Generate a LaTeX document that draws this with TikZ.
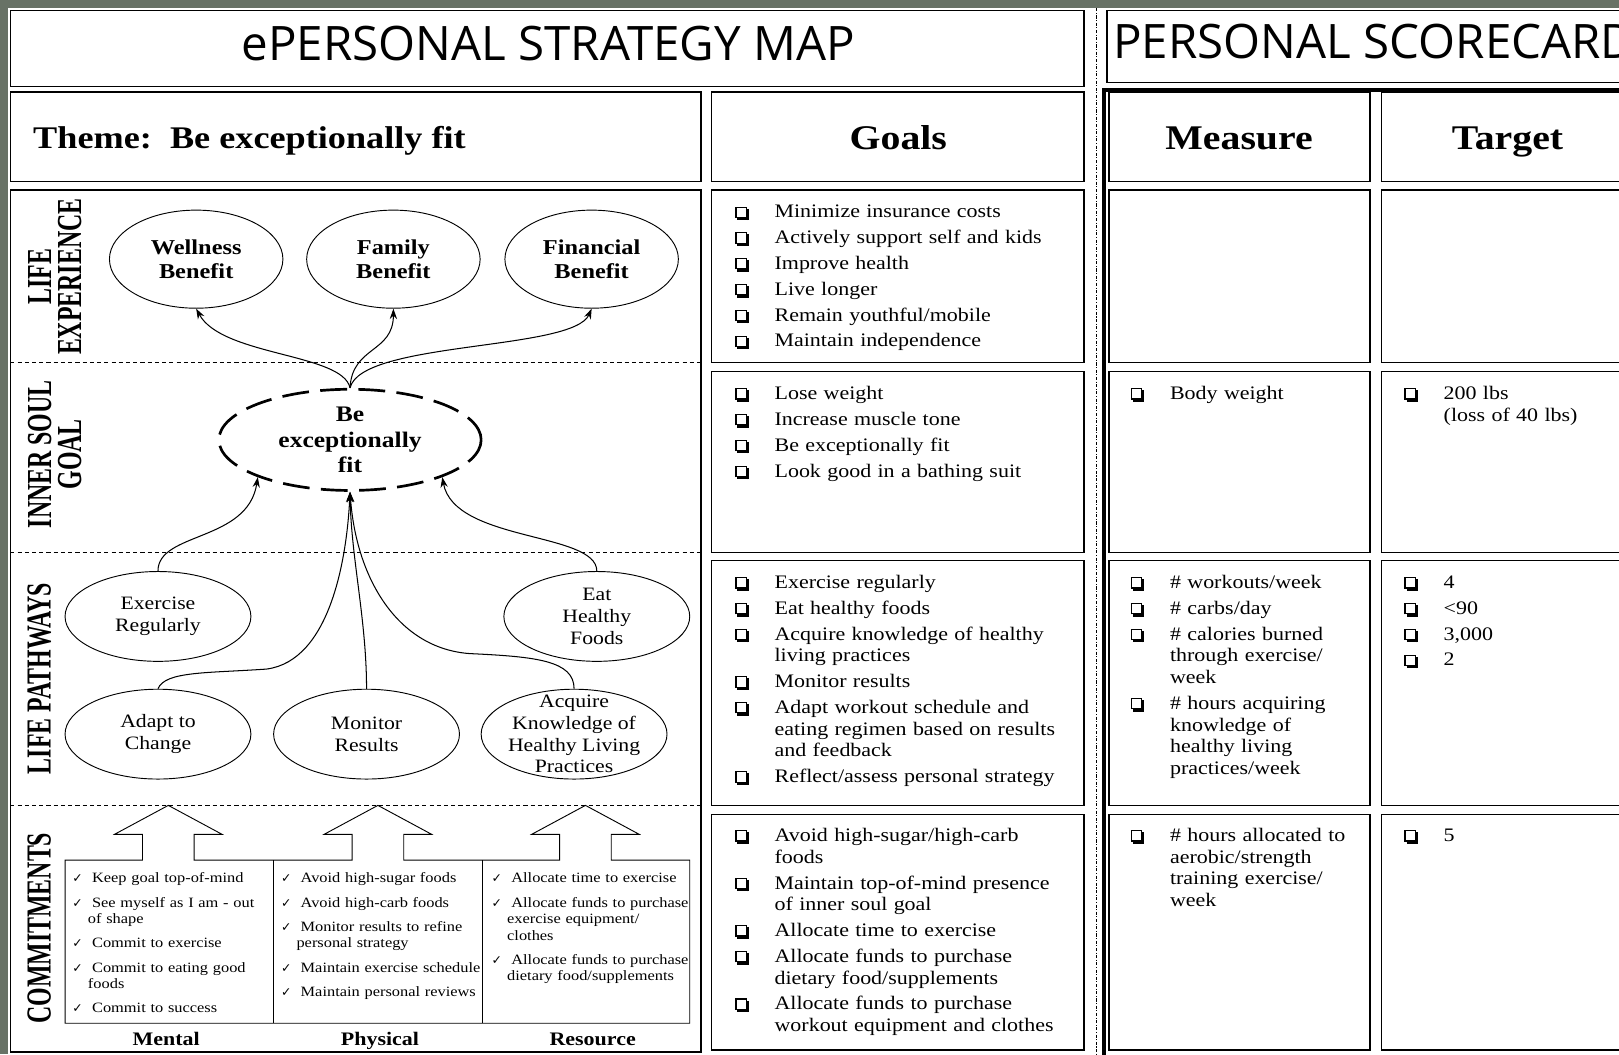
\documentclass[tikz,border=0pt]{standalone}
\usepackage{fontspec}
\setmainfont{Liberation Serif}[FakeStretch=1.15]
\newfontfamily\lanefamily{Liberation Serif}[FakeStretch=0.68]
\newfontfamily\titlefamily{Open Sans}
\newfontfamily\symfamily{DejaVu Sans}
\usetikzlibrary{positioning,shapes.geometric,arrows.meta}
\definecolor{slate}{RGB}{104,114,102}

% shadowed check box, built from rules
\newcommand\boxmark{%
  \rlap{\vrule width 1.1pt height 11pt depth 0pt}%
  \rlap{\raisebox{9.9pt}{\vrule width 11pt height 1.1pt depth 0pt}}%
  \rlap{\vrule width 11pt height 1.1pt depth 0pt}%
  \rlap{\hspace{9.9pt}\vrule width 1.1pt height 11pt depth 0pt}%
  \rlap{\hspace{2pt}\vrule width 11.2pt height 0pt depth 2.2pt}%
  \rlap{\hspace{11pt}\vrule width 2.2pt height 9pt depth 2.2pt}}
\newcommand\tickmark{{\symfamily\fontsize{12}{12}\selectfont ✓}}
\newcommand\goal[1]{\parskip=4pt\hangindent=38pt\hangafter=1\noindent\makebox[38pt][l]{\boxmark}#1\par}
\newcommand\tick[1]{\parskip=7.5pt\hangindent=15pt\hangafter=1\noindent\makebox[19pt][l]{\tickmark}#1\par}

\tikzset{
  frame/.style={draw, line width=1.4pt},
  lane/.style={rotate=90, align=center, inner sep=0pt,
    font=\lanefamily\bfseries\fontsize{34}{29}\selectfont},
  benefit/.style={
    draw,
    ellipse,
    line width=0.9pt,
    minimum width=168pt,
    minimum height=95pt,
    inner sep=0pt,
    align=center,
    font=\bfseries\fontsize{20.5}{24}\selectfont,
  },
  pathway/.style={
    draw,
    ellipse,
    line width=0.9pt,
    minimum width=180pt,
    minimum height=87pt,
    inner sep=0pt,
    align=center,
    font=\fontsize{18.3}{21}\selectfont,
  },
  soulgoal/.style={
    draw,
    ellipse,
    line width=2.6pt,
    dash pattern=on 26pt off 11pt,
    minimum width=254pt,
    minimum height=98pt,
    inner sep=0pt,
    align=center,
    font=\bfseries\fontsize{21.5}{25}\selectfont,
  },
  laneline/.style={line width=0.9pt, dash pattern=on 4pt off 3pt},
  divider/.style={line width=1pt, dash pattern=on 3pt off 1.5pt on 1pt off 1.5pt},
  link/.style={line width=1pt, -{Stealth[length=10pt,width=7pt]}},
  goallist/.style={anchor=base west, inner sep=0pt, text width=#1, align=left,
    font=\fontsize{18.5}{21}\selectfont},
  ticklist/.style={anchor=base west, inner sep=0pt, text width=#1, align=left,
    font=\fontsize{13.8}{16}\selectfont},
  header/.style={anchor=base, inner sep=0pt, font=\bfseries\fontsize{33.5}{36}\selectfont},
  pillar/.style={anchor=base, inner sep=0pt, font=\bfseries\fontsize{18.5}{20}\selectfont},
}

\begin{document}
\begin{tikzpicture}[x=1pt, y=-1pt]
  \useasboundingbox (0,0) rectangle (1568,1021);
  \fill[slate] (0,0) rectangle (1568,1021);
  \fill[white] (8,8) rectangle (1568,1021);

  % frames
  \draw[frame] (10,10) rectangle (1050,84);
  \draw[frame] (1072,10) rectangle (1580,80);
  \draw[frame] (10,89) rectangle (679,176);
  \draw[frame] (689,89) rectangle (1050,176);
  \draw[frame] (1074,89) rectangle (1327,176);
  \draw[frame] (1338,89) rectangle (1580,176);
  \draw[frame] (10,184) rectangle (679,1019);
  \foreach \ya/\yb in {184/351, 360/535, 543/780, 789/1017} {
    \draw[frame] (689,\ya) rectangle (1050,\yb);
    \draw[frame] (1074,\ya) rectangle (1327,\yb);
    \draw[frame] (1338,\ya) rectangle (1580,\yb);
  }
  \draw[line width=3.5pt] (1069,1025) -- (1069,87) -- (1580,87);
  \draw[divider] (1062,8) -- (1062,1021);
  \foreach \y in {351,535,780}
    \draw[laneline] (10,\y) -- (679,\y);

  % titles and headers
  \node[anchor=base, inner sep=0pt, font=\titlefamily\fontsize{46}{50}\selectfont] (maptitle) at (531,59) {ePERSONAL STRATEGY MAP};
  \node[anchor=base west, inner sep=0pt, font=\titlefamily\fontsize{46}{50}\selectfont] (cardtitle) at (1078,57) {PERSONAL SCORECARD};
  \node[anchor=base west, inner sep=0pt, font=\bfseries\fontsize{30.5}{33}\selectfont] (theme) at (32,144) {Theme:\ \ Be exceptionally fit};
  \node[header] (goalshead) at (870,145) {Goals};
  \node[header] (measurehead) at (1200,145) {Measure};
  \node[header] (targethead) at (1460,145) {Target};

  % lanes
  \node[lane] (lifeexp) at (53,268) {LIFE\\EXPERIENCE};
  \node[lane] (innersoul) at (53,440) {INNER SOUL\\GOAL};
  \node[lane] (lifepath) at (38,657) {LIFE PATHWAYS};
  \node[lane] (commit) at (38,899) {COMMITMENTS};

  % map
  \node[benefit] (well) at (190,251) {Wellness\\Benefit};
  \node[benefit] (fam) at (381,251) {Family\\Benefit};
  \node[benefit] (fin) at (573,251) {Financial\\Benefit};
  \node[soulgoal] (be) at (339,426) {Be\\exceptionally\\fit};
  \node[pathway] (ex) at (153,597) {Exercise\\Regularly};
  \node[pathway] (eat) at (578,597) {Eat\\Healthy\\Foods};
  \node[pathway] (adapt) at (153,711) {Adapt to\\Change};
  \node[pathway] (mon) at (355,711) {Monitor\\Results};
  \node[pathway] (acq) at (556,711) {};
  \node[align=center, inner sep=0pt, font=\fontsize{18.3}{21}\selectfont] (acqtext) at (acq.center)
    {Acquire\\Knowledge of\\Healthy Living\\Practices};

  \draw[link] (be.north) .. controls (332,342) and (215,345) .. (well.south);
  \draw[link] (be.north) .. controls (341,335) and (381,342) .. (fam.south);
  \draw[link] (be.north) .. controls (350,330) and (555,340) .. (fin.south);
  \draw[link] (ex.north) .. controls (153,515) and (240,525) .. (be.202);
  \draw[link] (eat.north) .. controls (578,515) and (440,525) .. (be.338);
  \draw[link] (adapt.north) .. controls (160,650) and (200,652) .. (258,648)
    .. controls (320,640) and (336,540) .. (be.south);
  \draw[link] (mon.north) .. controls (355,600) and (340,540) .. (be.south);
  \draw[link] (acq.north) .. controls (556,640) and (520,636) .. (455,633)
    .. controls (385,628) and (345,560) .. (be.south);

  % commitments
  \draw[line width=0.9pt] (63,991) -- (63,833)
    foreach \t in {163,366,567} {
      -- ({\t-25},833) -- ({\t-25},808) -- ({\t-52},808) -- (\t,780)
      -- ({\t+52},808) -- ({\t+25},808) -- ({\t+25},833)
    } -- (668,833) -- (668,991) -- cycle;
  \draw[line width=0.9pt] (265,833) -- (265,991) (467,833) -- (467,991);

  \node[ticklist=190pt] (mental) at (70,855) {%
    \tick{Keep goal top-of-mind}
    \tick{See myself as I am - out\newline of shape}
    \tick{Commit to exercise}
    \tick{Commit to eating good\newline foods}
    \tick{Commit to success}};
  \node[ticklist=200pt] (physical) at (272,855) {%
    \tick{Avoid high-sugar foods}
    \tick{Avoid high-carb foods}
    \tick{Monitor results to refine\newline personal strategy}
    \tick{Maintain exercise schedule}
    \tick{Maintain personal reviews}};
  \node[ticklist=210pt] (resource) at (476,855) {%
    \tick{Allocate time to exercise}
    \tick{Allocate funds to purchase\newline exercise equipment/\newline clothes}
    \tick{Allocate funds to purchase\newline dietary food/supplements}};
  \node[pillar] (mentallbl) at (161,1013) {Mental};
  \node[pillar] (physicallbl) at (368,1013) {Physical};
  \node[pillar] (resourcelbl) at (574,1013) {Resource};

  % goals
  \node[goallist=335pt] (goals1) at (712,211) {%
    \goal{Minimize insurance costs}
    \goal{Actively support self and kids}
    \goal{Improve health}
    \goal{Live longer}
    \goal{Remain youthful/mobile}
    \goal{Maintain independence}};
  \node[goallist=335pt] (goals2) at (712,387) {%
    \goal{Lose weight}
    \goal{Increase muscle tone}
    \goal{Be exceptionally fit}
    \goal{Look good in a bathing suit}};
  \node[goallist=335pt] (goals3) at (712,570) {%
    \goal{Exercise regularly}
    \goal{Eat healthy foods}
    \goal{Acquire knowledge of healthy\newline living practices}
    \goal{Monitor results}
    \goal{Adapt workout schedule and\newline eating regimen based on results\newline and feedback}
    \goal{Reflect/assess personal strategy}};
  \node[goallist=335pt] (goals4) at (712,815) {%
    \goal{Avoid high-sugar/high-carb\newline foods}
    \goal{Maintain top-of-mind presence\newline of inner soul goal}
    \goal{Allocate time to exercise}
    \goal{Allocate funds to purchase\newline dietary food/supplements}
    \goal{Allocate funds to purchase\newline workout equipment and clothes}};

  % scorecard
  \node[goallist=228pt] (measure2) at (1095,387) {\goal{Body weight}};
  \node[goallist=228pt] (measure3) at (1095,570) {%
    \goal{\# workouts/week}
    \goal{\# carbs/day}
    \goal{\# calories burned\newline through exercise/\newline week}
    \goal{\# hours acquiring\newline knowledge of\newline healthy living\newline practices/week}};
  \node[goallist=228pt] (measure4) at (1095,815) {%
    \goal{\# hours allocated to\newline aerobic/strength\newline training exercise/\newline week}};
  \node[goallist=200pt] (target2) at (1360,387) {\goal{200 lbs\newline (loss of 40 lbs)}};
  \node[goallist=200pt] (target3) at (1360,570) {%
    \goal{4}
    \goal{<90}
    \goal{3,000}
    \goal{2}};
  \node[goallist=200pt] (target4) at (1360,815) {\goal{5}};
\end{tikzpicture}
\end{document}
